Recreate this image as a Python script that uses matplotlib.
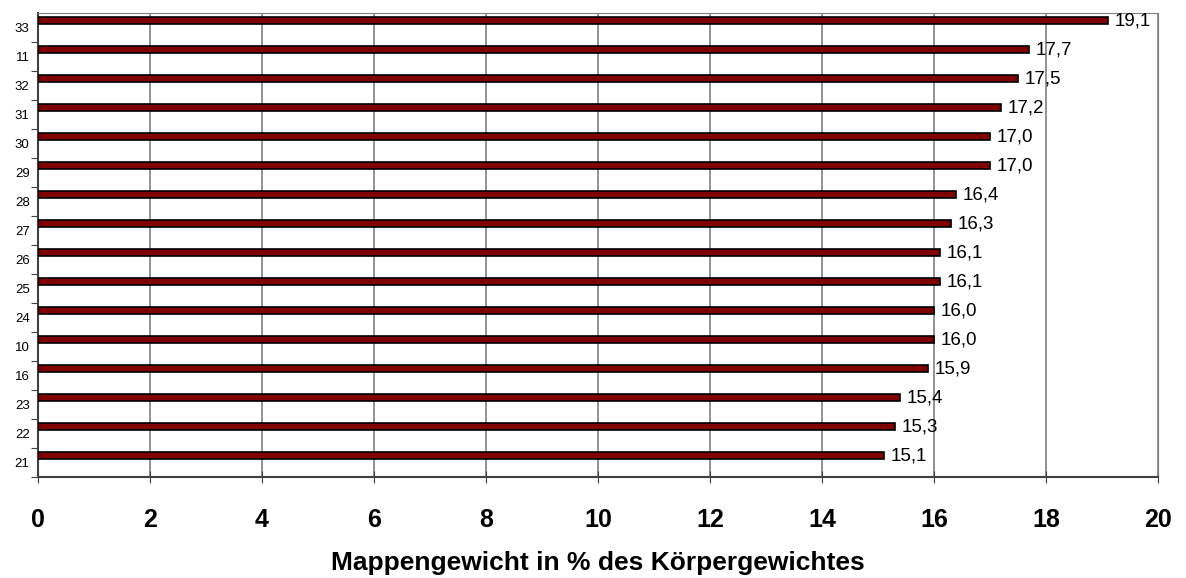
import matplotlib
matplotlib.use("Agg")
import matplotlib.pyplot as plt
import numpy as np

plt.rcParams['font.family'] = ['Liberation Sans', 'DejaVu Sans']

# categories from bottom to top
kategorien = ['21', '22', '23', '16', '10', '24', '25', '26',
              '27', '28', '29', '30', '31', '32', '11', '33']
werte = [15.1, 15.3, 15.4, 15.9, 16.0, 16.0, 16.1, 16.1,
         16.3, 16.4, 17.0, 17.0, 17.2, 17.5, 17.7, 19.1]
x_ticks = [0, 2, 4, 6, 8, 10, 12, 14, 16, 18, 20]

fig = plt.figure(figsize=(11.86, 5.78), dpi=100)
ax = fig.add_axes([38/1186, 101/578, 1120/1186, 464/578])

pos = np.arange(len(kategorien))
ax.barh(pos + 0.24, werte, height=0.26, color='#800000',
        edgecolor='black', linewidth=1.2, zorder=3)

for p, v in zip(pos, werte):
    ax.text(v + 0.12, p + 0.24, f'{v:.1f}'.replace('.', ','),
            va='center', ha='left', fontsize=13.5, zorder=4)

ax.set_xlim(0, 20)
ax.set_ylim(-0.5, len(kategorien) - 0.5)
ax.set_xticks(x_ticks)
ax.set_xticklabels([str(t) for t in x_ticks], fontsize=18, fontweight='bold')
ax.set_yticks(pos - 0.5, minor=False)
ax.set_yticklabels([])
ax.set_yticks(pos, minor=True)
ax.set_yticklabels(kategorien, minor=True, fontsize=9.5)
ax.tick_params(axis='y', which='minor', length=0, pad=6)
ax.tick_params(axis='y', which='major', length=5, direction='out', color='#404040')
ax.tick_params(axis='x', length=8, direction='inout', color='#404040', pad=18)

ax.grid(axis='x', color='#808080', linewidth=1.2, zorder=0)
for s in ['top', 'right']:
    ax.spines[s].set_color('#808080')
for s in ['left', 'bottom']:
    ax.spines[s].set_color('#404040')
    ax.spines[s].set_linewidth(1.5)

ax.set_xlabel('Mappengewicht in % des Körpergewichtes', fontsize=19,
              fontweight='bold', labelpad=14)

fig.savefig('out.png', dpi=100)
